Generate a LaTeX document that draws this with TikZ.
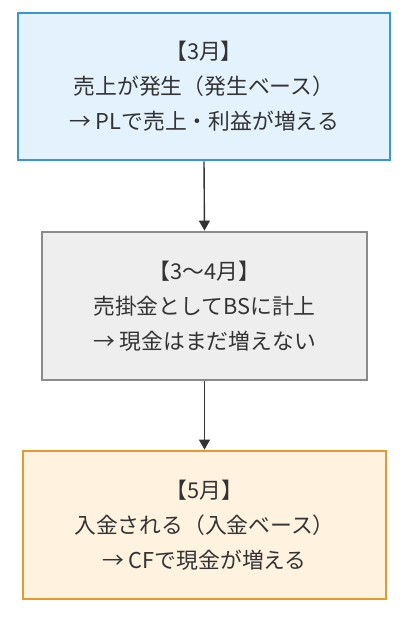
\documentclass[tikz,border=0pt]{standalone}
\usepackage{fontspec}
\newfontfamily\jp{Noto Sans CJK JP}
\usetikzlibrary{arrows.meta}
\definecolor{txt}{HTML}{333333}
\definecolor{bluefill}{HTML}{E3F2FD}
\definecolor{blueline}{HTML}{3A96D2}
\definecolor{grayfill}{HTML}{EEEEEE}
\definecolor{grayline}{HTML}{8A8A8A}
\definecolor{orangefill}{HTML}{FFF3E0}
\definecolor{orangeline}{HTML}{E69A2E}
\tikzset{
  box/.style={rectangle, line width=2.8pt, inner sep=0pt, align=center,
    text=txt, font=\jp\fontsize{21.8}{35}\selectfont},
  conn/.style={draw=txt, line width=1.4pt, -{Triangle[length=10pt,width=11pt]}}
}
\begin{document}
\begin{tikzpicture}[x=1pt,y=1pt]
\useasboundingbox[fill=white] (0,0) rectangle (410,621);
\node[box, draw=blueline, fill=bluefill, minimum width=372pt, minimum height=147pt] (b1) at (204,534.5)
  {【3月】\\売上が発生（発生ベース）\\→ PLで売上・利益が増える};
\node[box, draw=grayline, fill=grayfill, minimum width=325pt, minimum height=148pt] (b2) at (204.5,315)
  {【3〜4月】\\売掛金としてBSに計上\\→ 現金はまだ増えない};
\node[box, draw=orangeline, fill=orangefill, minimum width=363pt, minimum height=148pt] (b3) at (204.5,96)
  {【5月】\\入金される（入金ベース）\\→ CFで現金が増える};
\draw[conn] (b1.south) -- (b2.north);
\draw[conn] (b2.south) -- (b3.north);
\end{tikzpicture}
\end{document}
